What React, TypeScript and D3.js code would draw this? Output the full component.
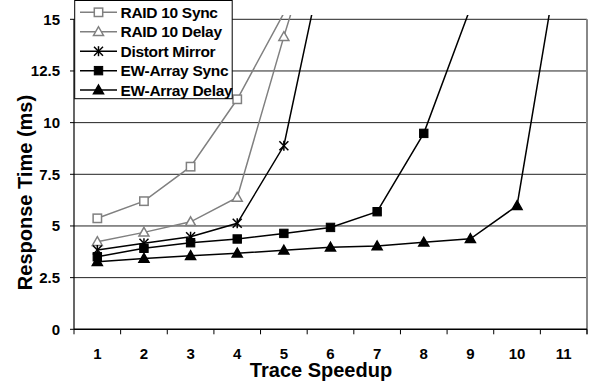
import React from "react";
import * as d3 from "d3";

const categories = ["1", "2", "3", "4", "5", "6", "7", "8", "9", "10", "11"];
const yTicks = [0, 2.5, 5, 7.5, 10, 12.5, 15];
const yTickLabels = ["0", "2.5", "5", "7.5", "10", "12.5", "15"];

const raid10Sync = [5.37, 6.2, 7.87, 11.13, 15.3];
const raid10Delay = [4.24, 4.69, 5.2, 6.38, 14.16, 21.5];
const distortMirror = [3.84, 4.16, 4.48, 5.13, 8.88, 19.5];
const ewSync = [3.51, 3.92, 4.19, 4.37, 4.64, 4.93, 5.69, 9.48, 15.55];
const ewDelay = [3.27, 3.43, 3.56, 3.68, 3.82, 3.97, 4.03, 4.21, 4.38, 5.98, 19.4];

const seriesNames = ["RAID 10 Sync", "RAID 10 Delay", "Distort Mirror", "EW-Array Sync", "EW-Array Delay"];

type Series = { name: string; values: number[]; color: string; marker: string };

const series: Series[] = [
  { name: seriesNames[0], values: raid10Sync, color: "#808080", marker: "openSquare" },
  { name: seriesNames[1], values: raid10Delay, color: "#808080", marker: "openTriangle" },
  { name: seriesNames[2], values: distortMirror, color: "#000000", marker: "star" },
  { name: seriesNames[3], values: ewSync, color: "#000000", marker: "square" },
  { name: seriesNames[4], values: ewDelay, color: "#000000", marker: "triangle" },
];

const FONT = "'Liberation Sans', Arial, Helvetica, sans-serif";

function Marker({ type, x, y, color }: { type: string; x: number; y: number; color: string }) {
  const s = 4.2;
  if (type === "openSquare")
    return <rect x={x - s} y={y - s} width={2 * s} height={2 * s} fill="#fff" stroke={color} strokeWidth={1.5} />;
  if (type === "square")
    return <rect x={x - s} y={y - s} width={2 * s} height={2 * s} fill="#000" stroke="#000" strokeWidth={1} />;
  if (type === "openTriangle" || type === "triangle") {
    const t = 5;
    const pts = `${x},${y - t} ${x + t},${y + t * 0.75} ${x - t},${y + t * 0.75}`;
    return (
      <polygon
        points={pts}
        fill={type === "triangle" ? "#000" : "#fff"}
        stroke={type === "triangle" ? "#000" : color}
        strokeWidth={1.5}
      />
    );
  }
  const r = 4.5;
  return (
    <g stroke={color} strokeWidth={1.5}>
      <line x1={x - r} y1={y - r} x2={x + r} y2={y + r} />
      <line x1={x - r} y1={y + r} x2={x + r} y2={y - r} />
      <line x1={x} y1={y - r - 0.5} x2={x} y2={y + r + 0.5} />
    </g>
  );
}

export default function App() {
  const W = 589;
  const H = 381;
  const left = 74;
  const right = 587;
  const x = d3.scaleBand<string>().domain(categories).range([left, right]).paddingInner(0).paddingOuter(0);
  const y = d3.scaleLinear().domain([0, 15]).range([329.3, 19.3]);
  const clipTop = 15;
  const bw = x.bandwidth();
  const cx = (i: number) => (x(categories[i]) as number) + bw / 2;

  const line = d3
    .line<number>()
    .x((_, i) => cx(i))
    .y((d) => y(d));

  const tickBounds = d3.range(categories.length + 1).map((i) => left + i * bw);

  return (
    <svg width={W} height={H} style={{ position: "absolute", left: 0, top: 0, background: "#fff" }}>
      <defs>
        <clipPath id="plotClip">
          <rect x={left} y={clipTop} width={right - left} height={329.3 - clipTop + 6} />
        </clipPath>
      </defs>
      <rect x={0} y={0} width={W} height={H} fill="#fff" />
      {yTicks.slice(1).map((t) => (
        <line key={t} x1={left} x2={right} y1={y(t)} y2={y(t)} stroke="#222" strokeWidth={1} />
      ))}
      <line x1={right} x2={right} y1={y(15)} y2={y(0) + 5} stroke="#888" strokeWidth={2} />
      <line x1={left} x2={left} y1={y(15)} y2={y(0)} stroke="#000" strokeWidth={1.2} />
      <line x1={left} x2={right} y1={y(0)} y2={y(0)} stroke="#000" strokeWidth={1.5} />
      {yTicks.map((t) => (
        <line key={"yt" + t} x1={left - 4} x2={left} y1={y(t)} y2={y(t)} stroke="#000" strokeWidth={1} />
      ))}
      {tickBounds.map((b, i) => (
        <line key={"xt" + i} x1={b} x2={b} y1={y(0)} y2={y(0) + 5} stroke="#000" strokeWidth={1} />
      ))}
      {yTicks.map((t, i) => (
        <text
          key={"yl" + t}
          x={60}
          y={y(t)}
          dy="0.36em"
          textAnchor="end"
          fontFamily={FONT}
          fontWeight="bold"
          fontSize={15}
          fill="#000"
        >
          {yTickLabels[i]}
        </text>
      ))}
      {categories.map((c, i) => (
        <text
          key={"xl" + c}
          x={cx(i)}
          y={359}
          textAnchor="middle"
          fontFamily={FONT}
          fontWeight="bold"
          fontSize={15}
          fill="#000"
        >
          {c}
        </text>
      ))}
      <text x={321} y={376.7} textAnchor="middle" fontFamily={FONT} fontWeight="bold" fontSize={20} fill="#000">
        Trace Speedup
      </text>
      <text
        transform={`translate(32,192.5) rotate(-90)`}
        textAnchor="middle"
        fontFamily={FONT}
        fontWeight="bold"
        fontSize={20}
        fill="#000"
      >
        Response Time (ms)
      </text>
      <g clipPath="url(#plotClip)">
        {series.map((s) => (
          <path key={s.name} d={line(s.values) || ""} fill="none" stroke={s.color} strokeWidth={1.5} />
        ))}
        {series.map((s) =>
          s.values.map((v, i) =>
            v <= 15 ? <Marker key={s.name + i} type={s.marker} x={cx(i)} y={y(v)} color={s.color} /> : null
          )
        )}
      </g>
      <g>
        <rect x={74.7} y={0.5} width={157.5} height={98.2} fill="#fff" stroke="#000" strokeWidth={1} />
        {series.map((s, i) => {
          const ly = 12.3 + i * 19.45;
          return (
            <g key={"lg" + s.name}>
              <line x1={80} x2={117} y1={ly} y2={ly} stroke={s.color} strokeWidth={1.5} />
              <Marker type={s.marker} x={98.5} y={ly} color={s.color} />
              <text
                x={120.5}
                y={ly}
                dy="0.36em"
                fontFamily={FONT}
                fontWeight="bold"
                fontSize={15.5}
                letterSpacing={-0.3}
                fill="#000"
              >
                {s.name}
              </text>
            </g>
          );
        })}
      </g>
    </svg>
  );
}
